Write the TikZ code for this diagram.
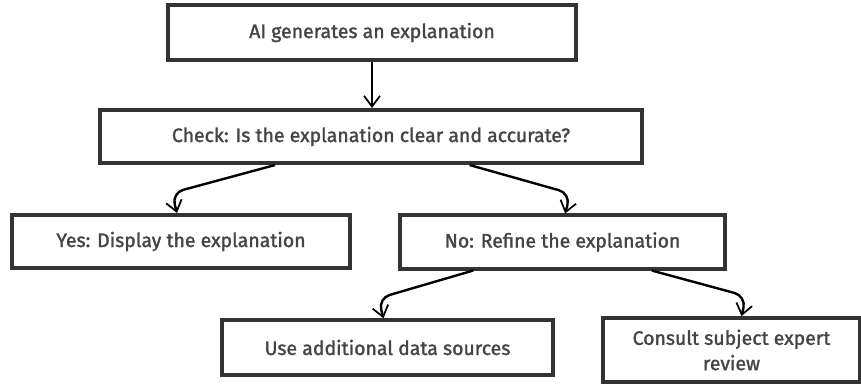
\documentclass[tikz,border=0pt]{standalone}
\usepackage{fontspec}
\setmainfont{Fira Sans}
\newfontfamily\boxfont{Fira Sans}[FakeBold=1.4]
\usetikzlibrary{arrows.meta,positioning}
\definecolor{ink}{HTML}{333333}
\definecolor{txt}{HTML}{444444}

\begin{document}
\begin{tikzpicture}[x=0.75pt,y=-0.75pt,
  step box/.style={draw=ink, line width=2.8pt, fill=white, inner sep=0pt,
    text=txt, align=center, font=\boxfont\fontsize{14.6}{19}\selectfont},
  flow/.style={draw=black, line width=1.8pt, rounded corners=9pt,
    -{Straight Barb[length=8pt,width=12pt,line width=1.3pt]}}]
\useasboundingbox (0,0) rectangle (861,383);
\node (gen) at (372,32.5) [step box, minimum width=306pt, minimum height=41pt] {AI generates an explanation};
\node (check) at (371,136.5) [step box, minimum width=406pt, minimum height=40pt] {Check: Is the explanation clear and accurate?};
\node (yes) at (181,241.5) [step box, minimum width=253pt, minimum height=40pt] {Yes: Display the explanation};
\node (no) at (562.5,242) [step box, minimum width=244pt, minimum height=40pt] {No: Refine the explanation};
\node (extra) at (387.5,347.5) [step box, minimum width=248pt, minimum height=41pt] {Use additional data sources};
\node (expert) at (731.5,350) [step box, minimum width=193pt, minimum height=48pt] {Consult subject expert\\review};
\begin{scope}[every path/.style={flow}]
\draw (gen) -- (gen|-check.north);
\draw ([xshift=-72pt]check.south) -- ([xshift=-7pt,yshift=15pt]yes.north) -- ([xshift=-3pt]yes.north);
\draw ([xshift=74pt]check.south) -- ([xshift=6pt,yshift=15pt]no.north) -- ([xshift=2pt]no.north);
\draw ([xshift=-67pt]no.south) -- ([xshift=-7pt,yshift=15pt]extra.north) -- ([xshift=-3pt]extra.north);
\draw ([xshift=67pt]no.south) -- ([xshift=11pt,yshift=15pt]expert.north) -- ([xshift=7.5pt]expert.north);
\end{scope}
\end{tikzpicture}
\end{document}
